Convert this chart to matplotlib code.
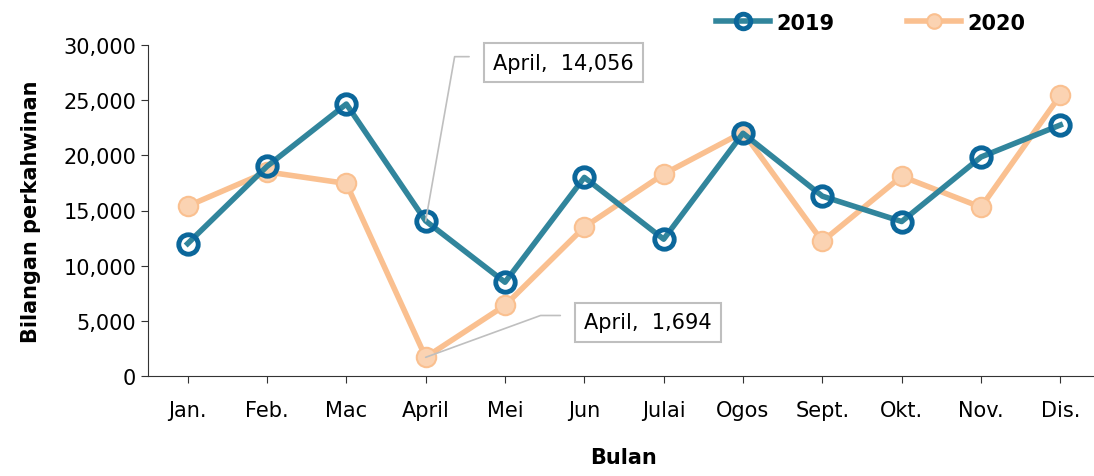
import matplotlib.pyplot as plt
from matplotlib.ticker import FuncFormatter

bulan = ["Jan.", "Feb.", "Mac", "April", "Mei", "Jun", "Julai", "Ogos",
         "Sept.", "Okt.", "Nov.", "Dis."]
kahwin_2019 = [12000, 19000, 24650, 14056, 8500, 18000, 12400, 22000,
               16300, 14000, 19850, 22750]
kahwin_2020 = [15400, 18500, 17450, 1694, 6400, 13500, 18300, 22100,
               12200, 18100, 15300, 25450]

plt.rcParams['font.family'] = ['DejaVu Sans']

fig = plt.figure(figsize=(10.94, 4.77), dpi=100)
ax = fig.add_axes([148 / 1094, 100 / 477, 952 / 1094, 331 / 477])

x = list(range(len(bulan)))
ax.plot(x, kahwin_2019, color="#31859C", lw=4, marker="o", ms=14,
        mfc="none", mec="#0B679B", mew=3.5, label="2019", zorder=3)
ax.plot(x, kahwin_2020, color="#FAC090", lw=4, marker="o", ms=14,
        mfc="#FBD3B2", mec="#FAC090", mew=1.5, label="2020", zorder=2)

ax.set_xlim(-0.5, 11.5)
ax.set_ylim(0, 30000)
ax.set_yticks(range(0, 30001, 5000))
ax.yaxis.set_major_formatter(FuncFormatter(lambda v, p: f"{int(v):,}"))
ax.set_xticks(x)
ax.set_xticklabels(bulan)
ax.tick_params(axis="both", labelsize=15, color="#333333", length=5)
ax.tick_params(axis="x", pad=12)
for s in ["top", "right"]:
    ax.spines[s].set_visible(False)
for s in ["left", "bottom"]:
    ax.spines[s].set_color("#333333")

ax.set_ylabel("Bilangan perkahwinan", fontsize=15, fontweight="bold",
              labelpad=16)
ax.set_xlabel("Bulan", fontsize=15, fontweight="bold", labelpad=20)

box = dict(boxstyle="square,pad=0.45", fc="white", ec="#BFBFBF", lw=1.5)
ax.annotate("April,  14,056", xy=(3, kahwin_2019[3]), xytext=(3.85, 28400),
            fontsize=15, ha="left", va="center", bbox=box,
            arrowprops=dict(arrowstyle="-", color="#BFBFBF", lw=1.2,
                            relpos=(0, 0.8),
                            connectionstyle="angle,angleA=180,angleB=80,rad=0",
                            shrinkA=10, shrinkB=0))
ax.annotate("April,  1,694", xy=(3, kahwin_2020[3]), xytext=(5.0, 4850),
            fontsize=15, ha="left", va="center", bbox=box,
            arrowprops=dict(arrowstyle="-", color="#BFBFBF", lw=1.2,
                            relpos=(0, 0.85),
                            connectionstyle="angle,angleA=180,angleB=20,rad=0",
                            shrinkA=10, shrinkB=0))

leg = ax.legend(loc="lower right", bbox_to_anchor=(0.935, 1.0), ncol=2,
                frameon=False, fontsize=15, handlelength=2.6,
                handletextpad=0.3, markerscale=0.75,
                columnspacing=3.5, borderaxespad=0.2)
for t in leg.get_texts():
    t.set_fontweight("bold")

fig.savefig("out.png", dpi=100)
